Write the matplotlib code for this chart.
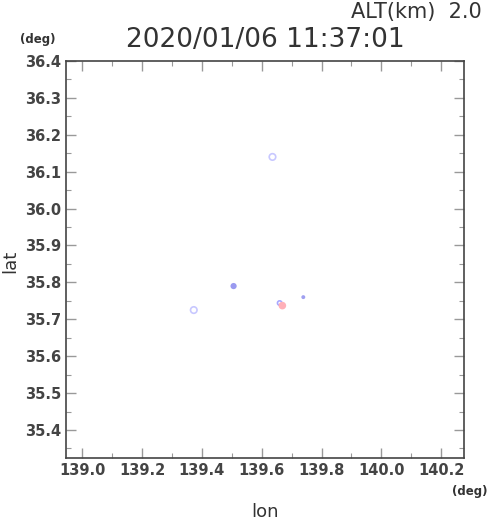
import matplotlib
matplotlib.use("Agg")
import matplotlib.pyplot as plt
from matplotlib.ticker import MultipleLocator

# Observed points (lon, lat) and their colours
lon = [139.636, 139.506, 139.373, 139.660, 139.669, 139.739]
lat = [36.140, 35.790, 35.725, 35.744, 35.737, 35.760]
colors = ["#c8c8ff", "#9a9af0", "#c8c8ff", "#a8a8ff", "#ffb0b8", "#a0a0f0"]
filled = [False, True, False, False, True, True]
sizes = [22, 20, 22, 10, 30, 8]

title = "2020/01/06 11:37:01"
alt_label = "ALT(km)  2.0"

fig = plt.figure(figsize=(4.9, 5.21), dpi=100)
ax = fig.add_axes([66 / 490, 1 - 458 / 521, 398 / 490, 397 / 521])

for x, y, c, f, s in zip(lon, lat, colors, filled, sizes):
    if f:
        ax.scatter(x, y, s=s, color=c, edgecolors="none")
    else:
        ax.scatter(x, y, s=s, facecolors="none", edgecolors=c, linewidths=1.2)

ax.set_xlim(138.946, 140.276)
ax.set_ylim(35.324, 36.4)
ax.xaxis.set_major_locator(MultipleLocator(0.2))
ax.xaxis.set_minor_locator(MultipleLocator(0.1))
ax.yaxis.set_major_locator(MultipleLocator(0.1))
ax.yaxis.set_minor_locator(MultipleLocator(0.05))
ax.xaxis.set_major_formatter(plt.FormatStrFormatter("%.1f"))
ax.yaxis.set_major_formatter(plt.FormatStrFormatter("%.1f"))
ax.tick_params(which="both", direction="in", top=True, right=True,
               color="#999999", labelcolor="#444444", labelsize=10.5)
ax.tick_params(which="major", length=7, width=1)
ax.tick_params(which="minor", length=3.5, width=0.8)
for lbl in ax.get_xticklabels() + ax.get_yticklabels():
    lbl.set_fontweight("bold")
for sp in ax.spines.values():
    sp.set_color("#444444")
    sp.set_linewidth(1.2)

fig.text(265 / 490, 1 - 512 / 521, "lon", ha="center", va="center",
         fontsize=13, color="#333333")
fig.text(10 / 490, 1 - 261 / 521, "lat", ha="center", va="center",
         rotation=90, fontsize=13, color="#333333")

fig.text(265 / 490, 1 - 40 / 521, title, ha="center", va="center",
         fontsize=19, color="#333333")
fig.text(482 / 490, 1 - 12 / 521, alt_label, ha="right", va="center",
         fontsize=15, color="#333333")
fig.text(38 / 490, 1 - 40 / 521, "(deg)", ha="center", va="center",
         fontsize=8.5, fontweight="bold", color="#333333")
fig.text(470 / 490, 1 - 492 / 521, "(deg)", ha="center", va="center",
         fontsize=8.5, fontweight="bold", color="#333333")

plt.savefig("out.png", dpi=100)
